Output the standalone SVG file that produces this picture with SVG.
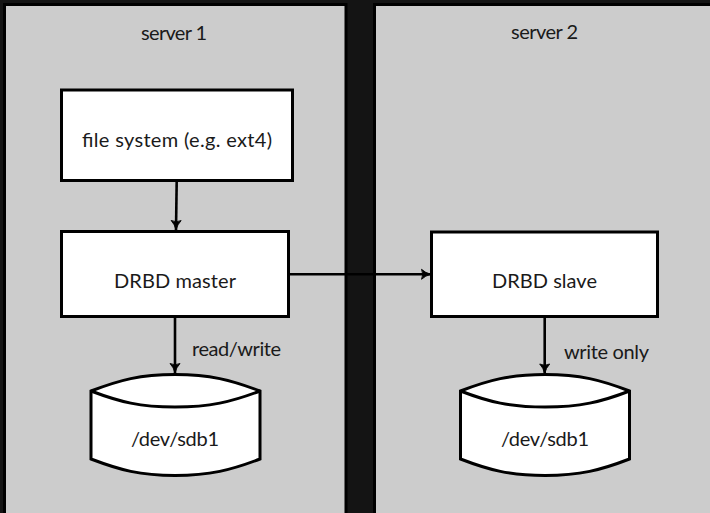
<svg xmlns="http://www.w3.org/2000/svg" width="710" height="513" viewBox="0 0 710 513">
<style>
.panel{fill:#ccc;stroke:#000;stroke-width:3}
.box,.disk{fill:#fff;stroke:#000;stroke-width:3}
.lid{fill:none;stroke:#000;stroke-width:3}
.conn{fill:none;stroke:#000;stroke-width:2.6;marker-end:url(#arrow)}
text{font-family:"Lato","Open Sans",sans-serif;font-size:20px;fill:#1a1a1a;text-anchor:middle}
</style>
<defs>
<marker id="arrow" markerUnits="userSpaceOnUse" markerWidth="12" markerHeight="13" refX="10.500" refY="6.500" orient="auto">
<path d="M1 1.500Q5 5.300 10.500 6.500Q5 7.700 1 11.500Q3.500 6.500 1 1.500Z" fill="#000" stroke="#000" stroke-width="0.9"/>
</marker>
</defs>
<rect width="710" height="513" fill="#141414"/>
<g id="server1"><rect class="panel" x="4.500" y="4.500" width="341.500" height="530"/><text x="174" y="40" textLength="66">server 1</text></g>
<g id="server2"><rect class="panel" x="374.500" y="4.500" width="340" height="530"/><text x="544.500" y="39" textLength="67">server 2</text></g>
<g id="connectors">
<path class="conn" d="M176.700 181L176 230"/>
<path class="conn" d="M175 317V373"/>
<path class="conn" d="M288 274.300H431"/>
<path class="conn" d="M544.700 317V373.500"/>
</g>
<g id="fs"><rect class="box" x="61.500" y="90" width="231" height="90.500"/><text x="177" y="147" textLength="190">file system (e.g. ext4)</text></g>
<g id="master"><rect class="box" x="61.500" y="231.500" width="227" height="85"/><text x="175" y="288" textLength="122">DRBD master</text></g>
<g id="slave"><rect class="box" x="431.500" y="232" width="226" height="84.500"/><text x="544.500" y="288" textLength="105">DRBD slave</text></g>
<g id="disk1"><path class="disk" d="M91 391C120 380 140 374.500 175 374.500C210 374.500 231 380 260 391V459C231 470 210 475.500 175 475.500C140 475.500 120 470 91 459Z"/><path class="lid" d="M91 391C120 402 140 407 175 407C210 407 231 402 260 391"/><text x="175" y="446" textLength="88">/dev/sdb1</text></g>
<g id="disk2"><path class="disk" d="M460.500 391C489 380 510 374.500 545 374.500C580 374.500 601 380 629.500 391V459C601 470 580 475.500 545 475.500C510 475.500 489 470 460.500 459Z"/><path class="lid" d="M460.500 391C489 402 510 407 545 407C580 407 601 402 629.500 391"/><text x="545" y="446" textLength="88">/dev/sdb1</text></g>
<text id="l1" x="236.500" y="356" textLength="89">read/write</text>
<text id="l2" x="606.500" y="359" textLength="85">write only</text>
</svg>
